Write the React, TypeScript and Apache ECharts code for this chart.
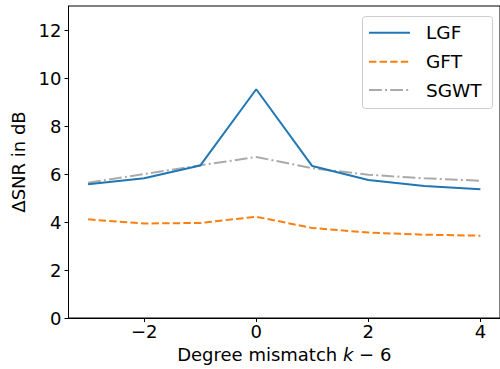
import React, { useEffect, useRef } from "react";
import * as echarts from "echarts";

const xValues = [-3, -2, -1, 0, 1, 2, 3, 4];
const seriesNames = ["LGF", "GFT", "SGWT"];
const lgf = [5.57, 5.82, 6.35, 9.53, 6.33, 5.75, 5.5, 5.36];
const gft = [4.11, 3.94, 3.96, 4.22, 3.75, 3.56, 3.47, 3.43];
const sgwt = [5.64, 6.0, 6.36, 6.71, 6.24, 5.97, 5.82, 5.72];
const xTicks = [-2, 0, 2, 4];
const yTicks = [0, 2, 4, 6, 8, 10, 12];

const colors = ["#1f77b4", "#ff7f0e", "#aaaaaa"];
const dashes: (string | number[])[] = ["solid", [7.4, 3.2], [12.8, 3.2, 2, 3.2]];
const FONT = "DejaVu Sans";

const fmt = (v: number) => (v < 0 ? "\u2212" + Math.abs(v) : String(v));

export default function App() {
  const ref = useRef<HTMLDivElement>(null);
  useEffect(() => {
    if (!ref.current) return;
    const chart = echarts.init(ref.current, null, { renderer: "svg" });
    const data = [lgf, gft, sgwt];
    const legendY = [32.7, 61.7, 90];
    const legendGraphics: any[] = [
      {
        type: "rect",
        shape: { x: 362.5, y: 16.5, width: 130, height: 92, r: 3 },
        style: { fill: "rgba(255,255,255,0.8)", stroke: "#cccccc", lineWidth: 1 },
        z: 100,
      },
    ];
    seriesNames.forEach((n, i) => {
      legendGraphics.push({
        type: "line",
        shape: { x1: 369, y1: legendY[i], x2: 410, y2: legendY[i] },
        style: {
          stroke: colors[i],
          lineWidth: 2,
          lineDash: Array.isArray(dashes[i]) ? dashes[i] : null,
        },
        z: 101,
      });
      legendGraphics.push({
        type: "text",
        x: 426,
        y: legendY[i],
        style: {
          text: n,
          font: `18.5px "${FONT}"`,
          fill: "#000",
          verticalAlign: "middle",
          align: "left",
        },
        z: 101,
      });
    });
    chart.setOption({
      animation: false,
      textStyle: { fontFamily: FONT },
      grid: {
        left: 68.5,
        top: 6,
        right: -2.6,
        bottom: 51,
        show: true,
        borderColor: "#000",
        borderWidth: 1,
        backgroundColor: "transparent",
      },
      xAxis: {
        type: "value",
        min: -3.35,
        max: 4.35,
        name: "Degree mismatch {i|k} \u2212 6",
        nameLocation: "middle",
        nameGap: 27,
        nameTextStyle: {
          fontSize: 18,
          color: "#000",
          fontFamily: FONT,
          rich: { i: { fontStyle: "italic", fontSize: 18, fontFamily: FONT } },
        },
        axisLine: { show: true, onZero: false, lineStyle: { color: "#000", width: 1 } },
        axisTick: { show: true, length: 4, lineStyle: { color: "#000" }, customValues: xTicks },
        axisLabel: {
          customValues: xTicks,
          formatter: fmt,
          fontSize: 18,
          color: "#000",
          margin: 4,
          fontFamily: FONT,
        },
        splitLine: { show: false },
      },
      yAxis: {
        type: "value",
        min: 0,
        max: 13,
        name: "\u0394SNR in dB",
        nameLocation: "middle",
        nameGap: 39,
        nameTextStyle: { fontSize: 18, color: "#000", fontFamily: FONT },
        axisLine: { show: true, onZero: false, lineStyle: { color: "#000", width: 1 } },
        axisTick: { show: true, length: 4, lineStyle: { color: "#000" }, customValues: yTicks },
        axisLabel: {
          customValues: yTicks,
          formatter: fmt,
          fontSize: 18,
          color: "#000",
          margin: 7,
          fontFamily: FONT,
        },
        splitLine: { show: false },
      },
      series: seriesNames.map((n, i) => ({
        name: n,
        type: "line",
        data: xValues.map((x, j) => [x, data[i][j]]),
        showSymbol: false,
        symbol: "none",
        lineStyle: { color: colors[i], width: 2, type: dashes[i] },
        z: 10 - i,
      })),
      graphic: legendGraphics,
    });
    return () => chart.dispose();
  }, []);
  return <div ref={ref} style={{ width: 500, height: 369, position: "absolute", left: 0, top: 0 }} />;
}
